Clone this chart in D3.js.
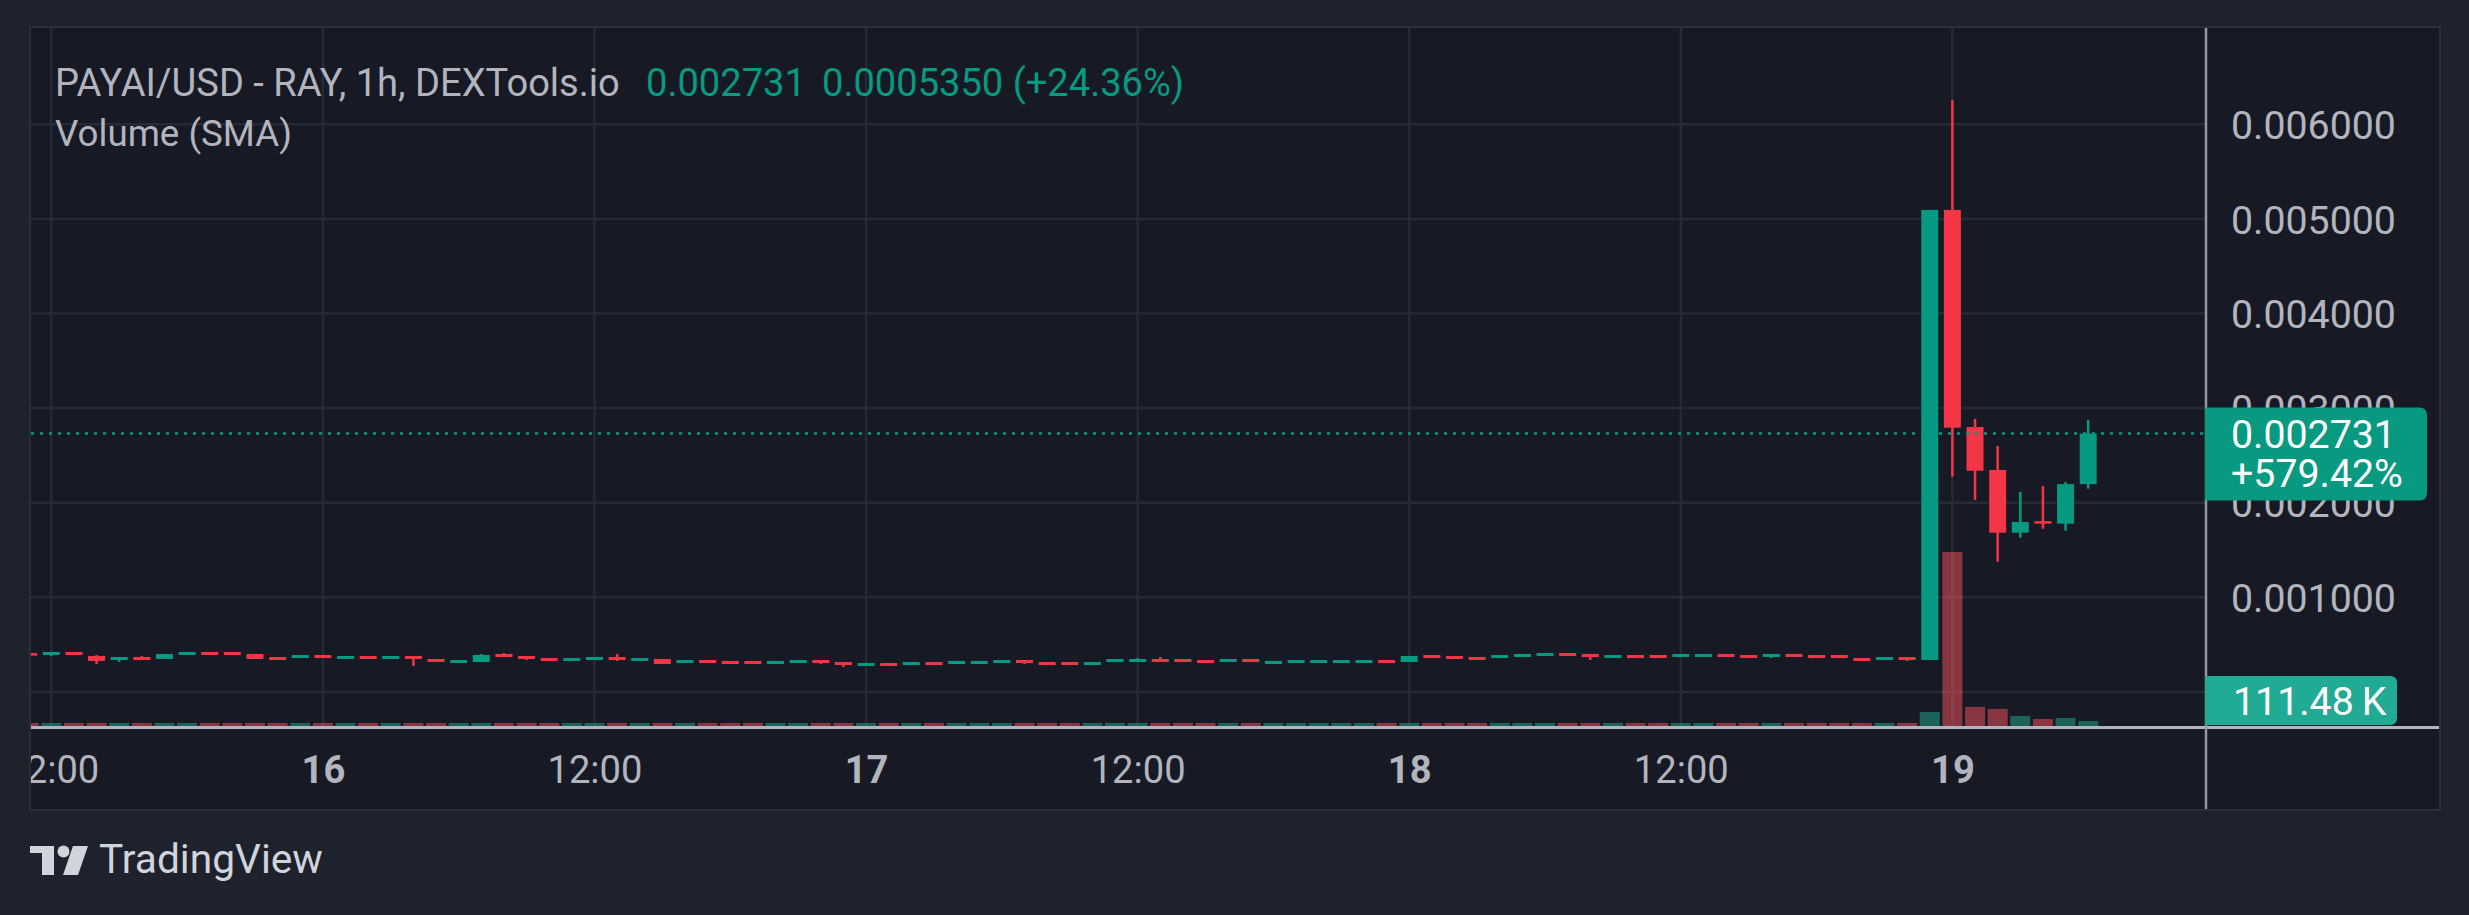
<!DOCTYPE html>
<html><head><meta charset="utf-8">
<script src="https://cdn.jsdelivr.net/npm/d3@7"></script>
<style>
html,body{margin:0;padding:0;background:#1e222d;overflow:hidden}
svg{display:block}
</style></head><body>
<svg id="c" width="2469" height="915"></svg>
<script>
// ---------------- DATA ----------------
const firstHour = "2025-01-15T11:00";
const lastHour  = "2025-01-19T06:00";
const opens = [
0.000411,0.000390,0.000422,0.000380,0.000337,0.000369,0.000348,0.000390,0.000422,0.000422,
0.000401,0.000369,0.000358,0.000390,0.000348,0.000380,0.000348,0.000380,0.000348,0.000305,
0.000316,0.000401,0.000380,0.000358,0.000327,0.000337,0.000369,0.000327,0.000348,0.000305,
0.000337,0.000327,0.000327,0.000295,0.000305,0.000337,0.000316,0.000274,0.000305,0.000284,
0.000316,0.000295,0.000295,0.000305,0.000337,0.000316,0.000316,0.000284,0.000316,0.000316,
0.000348,0.000348,0.000337,0.000316,0.000348,0.000295,0.000305,0.000305,0.000305,0.000305,
0.000337,0.000316,0.000390,0.000380,0.000369,0.000358,0.000369,0.000380,0.000411,0.000401,
0.000358,0.000390,0.000390,0.000369,0.000369,0.000401,0.000390,0.000369,0.000401,0.000390,
0.000390,0.000358,0.000337,0.000369,0.000337,0.005095,0.002800,0.002346,0.001683,0.001806,
0.001778,0.002196];
const highs = [
0.000411,0.000422,0.000422,0.000390,0.000369,0.000380,0.000401,0.000422,0.000422,0.000422,
0.000401,0.000369,0.000390,0.000390,0.000380,0.000380,0.000380,0.000380,0.000348,0.000337,
0.000401,0.000411,0.000380,0.000358,0.000358,0.000369,0.000401,0.000358,0.000348,0.000337,
0.000337,0.000327,0.000327,0.000327,0.000337,0.000337,0.000316,0.000305,0.000305,0.000316,
0.000316,0.000327,0.000327,0.000337,0.000337,0.000316,0.000316,0.000316,0.000348,0.000358,
0.000369,0.000348,0.000337,0.000348,0.000348,0.000327,0.000337,0.000337,0.000337,0.000337,
0.000337,0.000380,0.000390,0.000380,0.000369,0.000390,0.000401,0.000411,0.000411,0.000401,
0.000390,0.000390,0.000390,0.000401,0.000401,0.000401,0.000390,0.000401,0.000401,0.000390,
0.000390,0.000358,0.000369,0.000369,0.005095,0.006257,0.002885,0.002600,0.002113,0.002177,
0.002219,0.002874];
const lows = [
0.000383,0.000380,0.000390,0.000295,0.000316,0.000337,0.000348,0.000390,0.000390,0.000390,
0.000348,0.000337,0.000358,0.000358,0.000348,0.000348,0.000348,0.000274,0.000316,0.000305,
0.000316,0.000369,0.000337,0.000327,0.000327,0.000337,0.000327,0.000327,0.000295,0.000305,
0.000305,0.000295,0.000295,0.000295,0.000305,0.000295,0.000263,0.000274,0.000274,0.000284,
0.000284,0.000295,0.000295,0.000305,0.000295,0.000284,0.000284,0.000284,0.000316,0.000316,
0.000316,0.000316,0.000305,0.000316,0.000316,0.000295,0.000305,0.000305,0.000305,0.000305,
0.000305,0.000316,0.000358,0.000348,0.000337,0.000358,0.000369,0.000380,0.000380,0.000337,
0.000358,0.000358,0.000358,0.000369,0.000369,0.000369,0.000358,0.000358,0.000369,0.000358,
0.000358,0.000327,0.000337,0.000327,0.000337,0.002275,0.002029,0.001376,0.001630,0.001725,
0.001704,0.002148];
const closes = [
0.000383,0.000422,0.000390,0.000327,0.000369,0.000337,0.000401,0.000422,0.000390,0.000390,
0.000348,0.000337,0.000390,0.000358,0.000380,0.000348,0.000380,0.000348,0.000316,0.000337,
0.000390,0.000369,0.000348,0.000327,0.000358,0.000369,0.000337,0.000358,0.000295,0.000337,
0.000305,0.000295,0.000295,0.000327,0.000337,0.000305,0.000284,0.000305,0.000274,0.000316,
0.000284,0.000327,0.000327,0.000337,0.000305,0.000284,0.000284,0.000316,0.000348,0.000348,
0.000316,0.000316,0.000305,0.000348,0.000316,0.000327,0.000337,0.000337,0.000337,0.000337,
0.000305,0.000380,0.000358,0.000348,0.000337,0.000390,0.000401,0.000411,0.000380,0.000369,
0.000390,0.000358,0.000358,0.000401,0.000401,0.000369,0.000358,0.000401,0.000369,0.000358,
0.000358,0.000327,0.000369,0.000337,0.005095,0.002793,0.002338,0.001683,0.001796,0.001778,
0.002196,0.002731];
// volume in thousands
const volumes = [
67,67,67,67,67,67,67,67,67,67,
67,67,67,67,67,67,67,67,67,67,
67,67,67,67,67,67,67,67,67,67,
67,67,67,67,67,67,67,67,67,67,
67,67,67,67,67,67,67,67,67,67,
67,67,67,67,67,67,67,67,67,67,
67,67,67,67,67,67,67,67,67,67,
67,67,67,67,67,67,67,67,67,67,
67,67,67,67,312,3860,424,379,223,156,
178,111.48];
const xTickTimes  = ["2025-01-15T12:00","2025-01-16T00:00","2025-01-16T12:00","2025-01-17T00:00",
                     "2025-01-17T12:00","2025-01-18T00:00","2025-01-18T12:00","2025-01-19T00:00"];
const xTickLabels = ["12:00","16","12:00","17","12:00","18","12:00","19"];
const xTickBold   = [false,true,false,true,false,true,false,true];
const yTicks = [0.001,0.002,0.003,0.004,0.005,0.006];
const yGrid  = [0,0.001,0.002,0.003,0.004,0.005,0.006];
const titleText = "PAYAI/USD - RAY, 1h, DEXTools.io";
const lastPriceText = "0.002731";
const changeText = "0.0005350 (+24.36%)";
const pctText = "+579.42%";
const lastPrice = 0.002731;
const lastVolume = 111.48;
const volLabel = "111.48\u2009K";

// ---------------- LAYOUT ----------------
const W=2469,H=915;
const P={l:31,t:28,r:2439,b:809,axisX:2206,timeY:726};
const UP="#089981",DOWN="#F23645",VUP="rgba(34,171,148,0.5)",VDOWN="rgba(247,82,95,0.5)";
const GRID="#262a36",TXT="#b2b5be";
const FONT="Roboto, 'Noto Sans', sans-serif";

const parse=d3.timeParse("%Y-%m-%dT%H:%M");
const times=d3.timeHour.range(parse(firstHour), d3.timeHour.offset(parse(lastHour),1));
const data=times.map((t,i)=>({t,o:opens[i],h:highs[i],l:lows[i],c:closes[i],v:volumes[i]}));
const tickDates=xTickTimes.map(parse);

const x=d3.scaleTime().domain([tickDates[0],tickDates[7]]).range([51.3,1952.4]);
const y=d3.scaleLinear().domain([0,0.006]).range([691.9,124.3]);
const yv=d3.scaleLinear().domain([0,3860]).range([P.timeY,552]);

const svg=d3.select("#c");
svg.append("rect").attr("width",W).attr("height",H).attr("fill","#1e222d");
svg.append("rect").attr("x",P.l-1).attr("y",P.t-1).attr("width",P.r-P.l+2).attr("height",P.b-P.t+2)
  .attr("fill","#171a25").attr("stroke","#2a2e39").attr("stroke-width",2);

const defs=svg.append("defs");
defs.append("clipPath").attr("id","plot").append("rect")
  .attr("x",P.l).attr("y",P.t).attr("width",P.axisX-P.l).attr("height",P.timeY-P.t);
defs.append("clipPath").attr("id","taxis").append("rect")
  .attr("x",P.l).attr("y",P.timeY).attr("width",P.axisX-P.l).attr("height",P.b-P.timeY);

const plot=svg.append("g").attr("clip-path","url(#plot)");
// grid
plot.selectAll(".vg").data(tickDates).join("line")
  .attr("x1",d=>x(d)).attr("x2",d=>x(d)).attr("y1",P.t).attr("y2",P.timeY)
  .attr("stroke",GRID).attr("stroke-width",2.5);
plot.selectAll(".hg").data(yGrid).join("line")
  .attr("x1",P.l).attr("x2",P.axisX).attr("y1",d=>y(d)).attr("y2",d=>y(d))
  .attr("stroke",GRID).attr("stroke-width",2.5);

// volume
plot.selectAll(".vol").data(data).join("rect")
  .attr("x",d=>x(d.t)-10).attr("width",20)
  .attr("y",d=>yv(d.v)).attr("height",d=>yv(0)-yv(d.v))
  .attr("fill",d=>d.c>=d.o?VUP:VDOWN);

// wicks
plot.selectAll(".wick").data(data).join("rect")
  .attr("x",d=>x(d.t)-1.25).attr("width",2.5)
  .attr("y",d=>y(d.h)).attr("height",d=>Math.max(1,y(d.l)-y(d.h)))
  .attr("fill",d=>d.c>=d.o?UP:DOWN);
// bodies
plot.selectAll(".body").data(data).join("rect")
  .attr("x",d=>x(d.t)-8.5).attr("width",17)
  .attr("y",d=>y(Math.max(d.o,d.c))).attr("height",d=>Math.max(1.5,Math.abs(y(d.o)-y(d.c))))
  .attr("fill",d=>d.c>=d.o?UP:DOWN);

// last price dotted line
plot.append("line").attr("x1",P.l).attr("x2",P.axisX).attr("y1",y(lastPrice)).attr("y2",y(lastPrice))
  .attr("stroke",UP).attr("stroke-width",2.5).attr("stroke-dasharray","3,6");

// separators
svg.append("line").attr("x1",P.l).attr("x2",P.r).attr("y1",P.timeY+1.5).attr("y2",P.timeY+1.5)
  .attr("stroke","#b2b5be").attr("stroke-width",3);
svg.append("line").attr("x1",P.axisX).attr("x2",P.axisX).attr("y1",P.t).attr("y2",P.b)
  .attr("stroke","#9598a1").attr("stroke-width",2.5);

// fit helper
function fitSize(str,weight,target){
  const t=svg.append("text").attr("font-family",FONT).attr("font-size",40).attr("font-weight",weight).text(str);
  const w=t.node().getComputedTextLength(); t.remove(); return 40*target/w;
}
const axisFS=fitSize("0.006000",400,165);
const timeFS=fitSize("12:00",400,95);
const titleFS=fitSize(titleText,400,565);
const volFS=fitSize("Volume (SMA)",400,237);

// y axis
const ya=svg.append("g").attr("transform",`translate(2231,0)`)
  .call(d3.axisRight(y).tickValues(yTicks).tickSize(0).tickPadding(0).tickFormat(d=>d.toFixed(6)));
ya.select(".domain").remove();
ya.selectAll("text").attr("font-family",FONT).attr("font-size",axisFS).attr("fill",TXT).attr("dy","0.36em");

// x axis
const xa=svg.append("g").attr("clip-path","url(#taxis)").append("g").attr("transform",`translate(0,${P.timeY})`)
  .call(d3.axisBottom(x).tickValues(tickDates).tickSize(0).tickFormat((d,i)=>xTickLabels[i]));
xa.select(".domain").remove();
xa.selectAll("text").attr("font-family",FONT).attr("font-size",timeFS).attr("fill",TXT)
  .attr("y",57).attr("dy",0).attr("font-weight",(d,i)=>xTickBold[i]?700:400);

// legend
const leg=svg.append("g").attr("font-family",FONT).attr("font-size",titleFS);
const t1=leg.append("text").attr("x",55).attr("y",96).attr("fill",TXT).text(titleText);
const w1=t1.node().getComputedTextLength();
const t2=leg.append("text").attr("x",646).attr("y",96).attr("fill",UP).text(lastPriceText);
leg.append("text").attr("x",822).attr("y",96).attr("fill",UP).text(changeText);
leg.append("text").attr("x",55).attr("y",146).attr("fill",TXT).attr("font-size",volFS).text("Volume (SMA)");

// price label
function boxPath(x0,y0,x1,y1,r){
  return `M${x0},${y0}H${x1-r}Q${x1},${y0} ${x1},${y0+r}V${y1-r}Q${x1},${y1} ${x1-r},${y1}H${x0}Z`;
}
const py=y(lastPrice);
svg.append("path").attr("d",boxPath(P.axisX-1,py-26,2427,py+67,8)).attr("fill",UP);
svg.append("text").attr("x",2231).attr("y",py+14).attr("font-family",FONT).attr("font-size",axisFS)
  .attr("fill","#ffffff").text(lastPriceText);
svg.append("text").attr("x",2231).attr("y",py+53).attr("font-family",FONT).attr("font-size",axisFS)
  .attr("fill","#ffffff").text(pctText);
// volume label
const vy=Math.min(yv(lastVolume),P.timeY-25);
svg.append("path").attr("d",boxPath(P.axisX-1,vy-25,2397,vy+24,7)).attr("fill","#22ab94");
svg.append("text").attr("x",2233).attr("y",vy).attr("dy","0.36em").attr("font-family",FONT).attr("font-size",axisFS)
  .attr("fill","#ffffff").text(volLabel);

// TradingView logo
const logo=svg.append("g").attr("fill","#d1d4dc");
logo.append("path").attr("d","M30,846H54V875H42V853H30Z");
logo.append("circle").attr("cx",63.5).attr("cy",851.5).attr("r",6);
logo.append("path").attr("d","M73,846H88L78,875H63Z");
const tvFS=fitSize("TradingView",400,224);
svg.append("text").attr("x",99).attr("y",873).attr("font-family",FONT).attr("font-size",tvFS)
  .attr("fill","#d1d4dc").text("TradingView");
</script>
</body></html>
